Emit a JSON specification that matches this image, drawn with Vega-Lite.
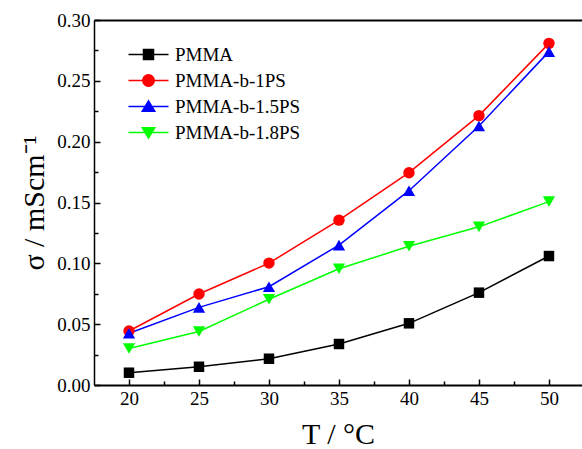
{
  "$schema": "https://vega.github.io/schema/vega-lite/v6.json",
  "autosize": {"type": "none"},
  "padding": {"left": 94, "top": 20, "right": 0, "bottom": 64},
  "width": 488,
  "height": 365,
  "background": "white",
  "view": {"stroke": null},
  "config": {
    "axis": {"grid": false, "domainColor": "black", "tickColor": "black", "labelColor": "black", "titleColor": "black", "labelFont": "Liberation Serif", "titleFont": "Liberation Serif", "titleFontWeight": "normal"},
    "legend": {"labelFont": "Liberation Serif", "labelFontSize": 19, "labelColor": "black"}
  },
  "data": {"values": [
    {"T": 20, "sigma": 0.0101, "series": "PMMA"},
    {"T": 25, "sigma": 0.0150, "series": "PMMA"},
    {"T": 30, "sigma": 0.0216, "series": "PMMA"},
    {"T": 35, "sigma": 0.0337, "series": "PMMA"},
    {"T": 40, "sigma": 0.0507, "series": "PMMA"},
    {"T": 45, "sigma": 0.0759, "series": "PMMA"},
    {"T": 50, "sigma": 0.1060, "series": "PMMA"},
    {"T": 20, "sigma": 0.0444, "series": "PMMA-b-1PS"},
    {"T": 25, "sigma": 0.0748, "series": "PMMA-b-1PS"},
    {"T": 30, "sigma": 0.1002, "series": "PMMA-b-1PS"},
    {"T": 35, "sigma": 0.1355, "series": "PMMA-b-1PS"},
    {"T": 40, "sigma": 0.1745, "series": "PMMA-b-1PS"},
    {"T": 45, "sigma": 0.2214, "series": "PMMA-b-1PS"},
    {"T": 50, "sigma": 0.2808, "series": "PMMA-b-1PS"},
    {"T": 20, "sigma": 0.0425, "series": "PMMA-b-1.5PS"},
    {"T": 25, "sigma": 0.0638, "series": "PMMA-b-1.5PS"},
    {"T": 30, "sigma": 0.0808, "series": "PMMA-b-1.5PS"},
    {"T": 35, "sigma": 0.1150, "series": "PMMA-b-1.5PS"},
    {"T": 40, "sigma": 0.1597, "series": "PMMA-b-1.5PS"},
    {"T": 45, "sigma": 0.2129, "series": "PMMA-b-1.5PS"},
    {"T": 50, "sigma": 0.2740, "series": "PMMA-b-1.5PS"},
    {"T": 20, "sigma": 0.0300, "series": "PMMA-b-1.8PS"},
    {"T": 25, "sigma": 0.0440, "series": "PMMA-b-1.8PS"},
    {"T": 30, "sigma": 0.0705, "series": "PMMA-b-1.8PS"},
    {"T": 35, "sigma": 0.0955, "series": "PMMA-b-1.8PS"},
    {"T": 40, "sigma": 0.1140, "series": "PMMA-b-1.8PS"},
    {"T": 45, "sigma": 0.1300, "series": "PMMA-b-1.8PS"},
    {"T": 50, "sigma": 0.1507, "series": "PMMA-b-1.8PS"}
  ]},
  "resolve": {"axis": {"x": "independent", "y": "independent"}},
  "layer": [
    {
      "mark": {"type": "line", "strokeWidth": 1.5},
      "encoding": {
        "x": {"field": "T", "type": "quantitative", "scale": {"domain": [17.5, 52.36], "nice": false, "zero": false},
          "axis": {"orient": "bottom", "values": [20, 25, 30, 35, 40, 45, 50], "tickSize": -6, "tickWidth": 1.5, "domainWidth": 2, "labelFontSize": 19, "labelPadding": 10, "title": "T / °C", "titleFontSize": 30, "titlePadding": 11}},
        "y": {"field": "sigma", "type": "quantitative", "scale": {"domain": [0, 0.3], "nice": false},
          "axis": {"orient": "left", "values": [0, 0.05, 0.1, 0.15, 0.2, 0.25, 0.3], "format": ".2f", "tickSize": -6, "tickWidth": 1.5, "domainWidth": 1.5, "labelFontSize": 19, "labelPadding": 10, "title": "σ / mScm⁻¹", "titleFontSize": 30, "titlePadding": 7}},
        "color": {"field": "series", "type": "nominal", "scale": {"domain": ["PMMA", "PMMA-b-1PS", "PMMA-b-1.5PS", "PMMA-b-1.8PS"], "range": ["#000000", "#ff0000", "#0000ff", "#00ff00"]}},
        "detail": {"field": "series"}
      }
    },
    {
      "transform": [{"filter": "datum.series === 'PMMA'"}],
      "mark": {"type": "point", "filled": true, "opacity": 1, "size": 110, "shape": "square"},
      "encoding": {
        "x": {"field": "T", "type": "quantitative", "axis": {"orient": "top", "ticks": false, "labels": false, "domain": true, "domainWidth": 2, "title": null}},
        "y": {"field": "sigma", "type": "quantitative", "axis": null},
        "color": {"field": "series", "type": "nominal"}
      }
    },
    {
      "transform": [{"filter": "datum.series === 'PMMA-b-1PS'"}],
      "mark": {"type": "point", "filled": true, "opacity": 1, "size": 130, "shape": "circle"},
      "encoding": {
        "x": {"field": "T", "type": "quantitative", "axis": null},
        "y": {"field": "sigma", "type": "quantitative", "axis": null},
        "color": {"field": "series", "type": "nominal"}
      }
    },
    {
      "transform": [{"filter": "datum.series === 'PMMA-b-1.5PS'"}],
      "mark": {"type": "point", "filled": true, "opacity": 1, "size": 150, "shape": "triangle-up"},
      "encoding": {
        "x": {"field": "T", "type": "quantitative", "axis": null},
        "y": {"field": "sigma", "type": "quantitative", "axis": null},
        "color": {"field": "series", "type": "nominal"}
      }
    },
    {
      "transform": [{"filter": "datum.series === 'PMMA-b-1.8PS'"}],
      "mark": {"type": "point", "filled": true, "opacity": 1, "size": 150, "shape": "triangle-down"},
      "encoding": {
        "x": {"field": "T", "type": "quantitative", "axis": null},
        "y": {"field": "sigma", "type": "quantitative", "axis": null},
        "color": {"field": "series", "type": "nominal"}
      }
    },
    {
      "mark": {"type": "point", "filled": true, "opacity": 0, "size": 100},
      "encoding": {
        "x": {"field": "T", "type": "quantitative",
          "axis": {"orient": "bottom", "values": [22.5, 27.5, 32.5, 37.5, 42.5, 47.5], "tickSize": -4, "tickWidth": 1.5, "labels": false, "domain": false, "title": null}},
        "y": {"field": "sigma", "type": "quantitative",
          "axis": {"orient": "left", "values": [0.025, 0.075, 0.125, 0.175, 0.225, 0.275], "tickSize": -4, "tickWidth": 1.5, "labels": false, "domain": false, "title": null}},
        "color": {"field": "series", "type": "nominal",
          "legend": {"orient": "none", "legendX": 45, "legendY": 25, "padding": 0, "title": null, "labelOffset": 17, "symbolSize": 100, "symbolStrokeWidth": 1.5, "symbolOpacity": 1, "rowPadding": 6}},
        "shape": {"field": "series", "type": "nominal",
          "scale": {"domain": ["PMMA", "PMMA-b-1PS", "PMMA-b-1.5PS", "PMMA-b-1.8PS"],
            "range": ["M-4,0H4M-1,-1H1V1H-1Z", "M-4,0H4M-1.15,0A1.15,1.15,0,1,1,1.15,0A1.15,1.15,0,1,1,-1.15,0Z", "M-4,0H4M0,-1.1L1.25,0.95L-1.25,0.95Z", "M-4,0H4M0,1.1L1.25,-0.95L-1.25,-0.95Z"]},
          "legend": {"orient": "none", "legendX": 45, "legendY": 25, "padding": 0, "title": null, "labelOffset": 17, "symbolSize": 100, "symbolStrokeWidth": 1.5, "symbolOpacity": 1, "rowPadding": 6}
        }
      }
    }
  ]
}
